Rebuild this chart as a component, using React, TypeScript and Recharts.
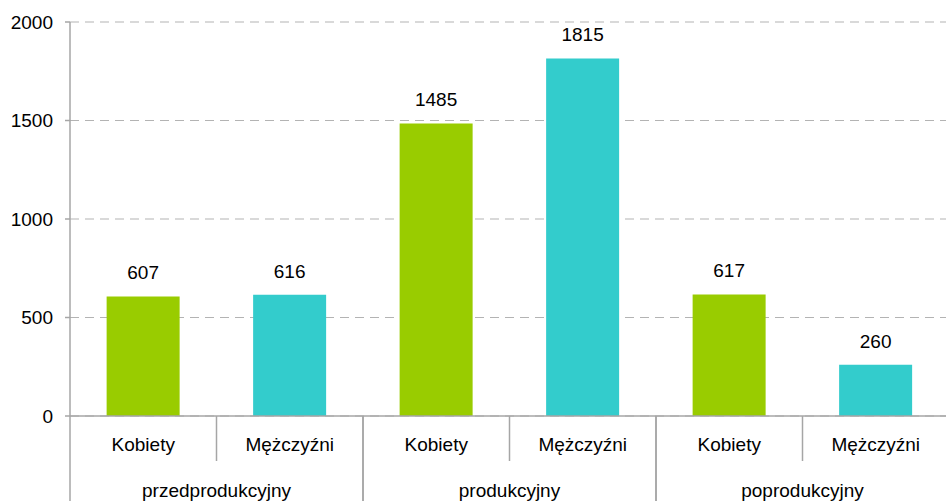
import React from "react";
import { BarChart, Bar, XAxis, YAxis, CartesianGrid, Cell, LabelList } from "recharts";

const categories = ["Kobiety", "Mężczyźni", "Kobiety", "Mężczyźni", "Kobiety", "Mężczyźni"];
const groups = ["przedprodukcyjny", "przedprodukcyjny", "produkcyjny", "produkcyjny", "poprodukcyjny", "poprodukcyjny"];
const values = [607, 616, 1485, 1815, 617, 260];
const yTicks = [0, 500, 1000, 1500, 2000];

const GREEN = "#99CC00";
const CYAN = "#33CCCC";
const LINE = "#a6a6a6";
const FONT = "'Liberation Sans', Arial, sans-serif";

const data = categories.map((c, i) => ({ key: i, name: c, group: groups[i], value: values[i] }));

// draws the two-level category axis: sex labels, age-group labels and separators
const GroupTick = (props: any) => {
  const { x, y, payload, index, width } = props;
  const band = width / data.length;
  const left = x - band / 2;
  const right = x + band / 2;
  const top = y;
  const row = data[payload.value];
  const first = index % 2 === 0;
  return (
    <g>
      <text x={x} y={top + 35} textAnchor="middle" fontSize={19} fontFamily={FONT} fill="#000">
        {row.name}
      </text>
      {first ? (
        <>
          <line x1={left} y1={top} x2={left} y2={top + 85} stroke={LINE} strokeWidth={1.5} />
          <line x1={right} y1={top} x2={right} y2={top + 45} stroke={LINE} strokeWidth={1.5} />
          <text x={right} y={top + 81} textAnchor="middle" fontSize={19} fontFamily={FONT} fill="#000">
            {row.group}
          </text>
        </>
      ) : (
        <line x1={right} y1={top} x2={right} y2={top + 85} stroke={LINE} strokeWidth={1.5} />
      )}
    </g>
  );
};

export default function App() {
  return (
    <div style={{ position: "absolute", left: 0, top: 0, background: "#fff" }}>
      <BarChart
        width={946}
        height={501}
        data={data}
        margin={{ top: 22, right: -3, left: 0, bottom: 0 }}
        barCategoryGap="25%"
      >
        <CartesianGrid vertical={false} stroke="#b3b3b3" strokeDasharray="9 6" strokeWidth={1.2} />
        <XAxis
          dataKey="key"
          height={85}
          interval={0}
          tickLine={false}
          tickSize={0}
          tickMargin={0}
          axisLine={{ stroke: LINE, strokeWidth: 1.5 }}
          tick={<GroupTick />}
        />
        <YAxis
          width={70}
          domain={[0, 2000]}
          ticks={yTicks}
          tickSize={5}
          tickMargin={12}
          tickLine={{ stroke: LINE, strokeWidth: 1.5 }}
          axisLine={{ stroke: LINE, strokeWidth: 1.5 }}
          tick={{ fill: "#000", fontSize: 19, fontFamily: FONT }}
        />
        <Bar dataKey="value" isAnimationActive={false}>
          {data.map((d, i) => (
            <Cell key={i} fill={i % 2 === 0 ? GREEN : CYAN} />
          ))}
          <LabelList dataKey="value" position="top" offset={17} fill="#000" fontSize={19} fontFamily={FONT} />
        </Bar>
      </BarChart>
    </div>
  );
}
